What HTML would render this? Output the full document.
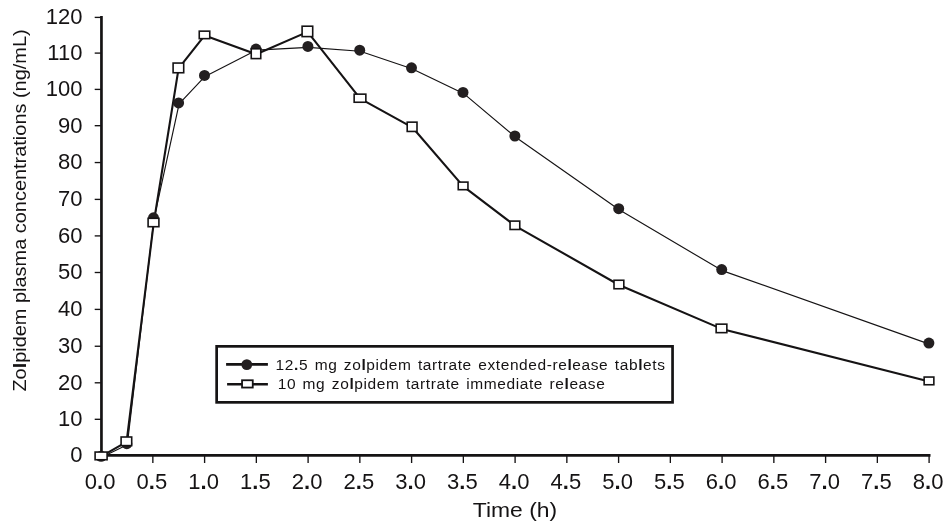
<!DOCTYPE html>
<html><head><meta charset="utf-8"><title>Zolpidem plasma concentrations</title>
<style>html,body{margin:0;padding:0;background:#fff;overflow:hidden}svg{display:block;will-change:transform}</style>
</head><body>
<svg width="950" height="527" viewBox="0 0 950 527">
<rect width="950" height="527" fill="#fff"/>
<line x1="94.7" y1="419.30" x2="101" y2="419.30" stroke="#151314" stroke-width="1.35"/>
<line x1="94.7" y1="382.80" x2="101" y2="382.80" stroke="#151314" stroke-width="1.35"/>
<line x1="94.7" y1="346.25" x2="101" y2="346.25" stroke="#151314" stroke-width="1.35"/>
<line x1="94.7" y1="309.40" x2="101" y2="309.40" stroke="#151314" stroke-width="1.35"/>
<line x1="94.7" y1="272.50" x2="101" y2="272.50" stroke="#151314" stroke-width="1.35"/>
<line x1="94.7" y1="235.90" x2="101" y2="235.90" stroke="#151314" stroke-width="1.35"/>
<line x1="94.7" y1="199.40" x2="101" y2="199.40" stroke="#151314" stroke-width="1.35"/>
<line x1="94.7" y1="162.55" x2="101" y2="162.55" stroke="#151314" stroke-width="1.35"/>
<line x1="94.7" y1="125.70" x2="101" y2="125.70" stroke="#151314" stroke-width="1.35"/>
<line x1="94.7" y1="89.40" x2="101" y2="89.40" stroke="#151314" stroke-width="1.35"/>
<line x1="94.7" y1="53.10" x2="101" y2="53.10" stroke="#151314" stroke-width="1.35"/>
<line x1="94.7" y1="17.40" x2="101" y2="17.40" stroke="#151314" stroke-width="1.35"/>
<line x1="152.85" y1="455" x2="152.85" y2="463" stroke="#151314" stroke-width="1.35"/>
<line x1="204.60" y1="455" x2="204.60" y2="463" stroke="#151314" stroke-width="1.35"/>
<line x1="256.35" y1="455" x2="256.35" y2="463" stroke="#151314" stroke-width="1.35"/>
<line x1="308.10" y1="455" x2="308.10" y2="463" stroke="#151314" stroke-width="1.35"/>
<line x1="359.85" y1="455" x2="359.85" y2="463" stroke="#151314" stroke-width="1.35"/>
<line x1="411.60" y1="455" x2="411.60" y2="463" stroke="#151314" stroke-width="1.35"/>
<line x1="463.35" y1="455" x2="463.35" y2="463" stroke="#151314" stroke-width="1.35"/>
<line x1="515.10" y1="455" x2="515.10" y2="463" stroke="#151314" stroke-width="1.35"/>
<line x1="566.85" y1="455" x2="566.85" y2="463" stroke="#151314" stroke-width="1.35"/>
<line x1="618.60" y1="455" x2="618.60" y2="463" stroke="#151314" stroke-width="1.35"/>
<line x1="670.35" y1="455" x2="670.35" y2="463" stroke="#151314" stroke-width="1.35"/>
<line x1="722.10" y1="455" x2="722.10" y2="463" stroke="#151314" stroke-width="1.35"/>
<line x1="773.85" y1="455" x2="773.85" y2="463" stroke="#151314" stroke-width="1.35"/>
<line x1="825.60" y1="455" x2="825.60" y2="463" stroke="#151314" stroke-width="1.35"/>
<line x1="877.35" y1="455" x2="877.35" y2="463" stroke="#151314" stroke-width="1.35"/>
<line x1="929.10" y1="455" x2="929.10" y2="463" stroke="#151314" stroke-width="1.35"/>
<line x1="101.45" y1="16" x2="101.45" y2="456.6" stroke="#151314" stroke-width="2.7"/>
<line x1="100.1" y1="455.45" x2="930.5" y2="455.45" stroke="#151314" stroke-width="2.8"/>
<g font-family="Liberation Sans, Arial, sans-serif" font-size="22" fill="#151314" text-anchor="end"><text x="82.4" y="462.35">0</text><text x="82.4" y="426.20">10</text><text x="82.4" y="389.70">20</text><text x="82.4" y="353.15">30</text><text x="82.4" y="316.30">40</text><text x="82.4" y="279.40">50</text><text x="82.4" y="242.80">60</text><text x="82.4" y="206.30">70</text><text x="82.4" y="169.45">80</text><text x="82.4" y="132.60">90</text><text x="82.4" y="96.30">100</text><text x="82.4" y="60.00">110</text><text x="82.4" y="24.30">120</text></g>
<g font-family="Liberation Sans, Arial, sans-serif" font-size="22" fill="#151314" text-anchor="middle"><text x="100.10" y="488.7">0<tspan font-weight="bold" dy="0.7">.</tspan><tspan dy="-0.7">0</tspan></text><text x="151.85" y="488.7">0<tspan font-weight="bold" dy="0.7">.</tspan><tspan dy="-0.7">5</tspan></text><text x="203.60" y="488.7">1<tspan font-weight="bold" dy="0.7">.</tspan><tspan dy="-0.7">0</tspan></text><text x="255.35" y="488.7">1<tspan font-weight="bold" dy="0.7">.</tspan><tspan dy="-0.7">5</tspan></text><text x="307.10" y="488.7">2<tspan font-weight="bold" dy="0.7">.</tspan><tspan dy="-0.7">0</tspan></text><text x="358.85" y="488.7">2<tspan font-weight="bold" dy="0.7">.</tspan><tspan dy="-0.7">5</tspan></text><text x="410.60" y="488.7">3<tspan font-weight="bold" dy="0.7">.</tspan><tspan dy="-0.7">0</tspan></text><text x="462.35" y="488.7">3<tspan font-weight="bold" dy="0.7">.</tspan><tspan dy="-0.7">5</tspan></text><text x="514.10" y="488.7">4<tspan font-weight="bold" dy="0.7">.</tspan><tspan dy="-0.7">0</tspan></text><text x="565.85" y="488.7">4<tspan font-weight="bold" dy="0.7">.</tspan><tspan dy="-0.7">5</tspan></text><text x="617.60" y="488.7">5<tspan font-weight="bold" dy="0.7">.</tspan><tspan dy="-0.7">0</tspan></text><text x="669.35" y="488.7">5<tspan font-weight="bold" dy="0.7">.</tspan><tspan dy="-0.7">5</tspan></text><text x="721.10" y="488.7">6<tspan font-weight="bold" dy="0.7">.</tspan><tspan dy="-0.7">0</tspan></text><text x="772.85" y="488.7">6<tspan font-weight="bold" dy="0.7">.</tspan><tspan dy="-0.7">5</tspan></text><text x="824.60" y="488.7">7<tspan font-weight="bold" dy="0.7">.</tspan><tspan dy="-0.7">0</tspan></text><text x="876.35" y="488.7">7<tspan font-weight="bold" dy="0.7">.</tspan><tspan dy="-0.7">5</tspan></text><text x="928.10" y="488.7">8<tspan font-weight="bold" dy="0.7">.</tspan><tspan dy="-0.7">0</tspan></text></g>
<text transform="translate(515,516.8) scale(1.09,1)" text-anchor="middle" font-family="Liberation Sans, Arial, sans-serif" font-size="21" fill="#151314">Time (h)</text>
<text transform="translate(26.2,210.5) rotate(-90) scale(1.108,1)" text-anchor="middle" font-family="Liberation Sans, Arial, sans-serif" font-size="18" fill="#151314">Zo<tspan font-weight="bold">l</tspan>pidem plasma concentrations (ng/mL)</text>
<polyline fill="none" stroke="#151314" stroke-width="1.15" stroke-linejoin="round" points="101.6,457.3 127.3,444.7 154.0,218.8 179.1,103.9 205.0,76.4 256.5,50.1 308.4,47.4 360.2,51.2 412.0,68.8 463.5,93.4 515.4,137.0 619.2,209.7 722.2,270.6 929.4,344.1"/>
<polyline fill="none" stroke="#151314" stroke-width="2.1" stroke-linejoin="round" points="101.3,456.4 126.6,441.8 153.7,223.0 178.6,68.4 204.7,35.4 256.2,54.2 307.6,31.9 360.2,98.7 412.3,127.3 463.3,186.4 515.1,225.8 619.1,285.0 721.7,328.9 929.2,381.4"/>
<circle cx="101.1" cy="456.3" r="5.5" fill="#231f20"/>
<circle cx="126.8" cy="443.7" r="5.5" fill="#231f20"/>
<circle cx="153.5" cy="217.8" r="5.5" fill="#231f20"/>
<circle cx="178.6" cy="102.9" r="5.5" fill="#231f20"/>
<circle cx="204.5" cy="75.4" r="5.5" fill="#231f20"/>
<circle cx="256.0" cy="49.1" r="5.5" fill="#231f20"/>
<circle cx="307.9" cy="46.4" r="5.5" fill="#231f20"/>
<circle cx="359.7" cy="50.2" r="5.5" fill="#231f20"/>
<circle cx="411.5" cy="67.8" r="5.5" fill="#231f20"/>
<circle cx="463.0" cy="92.4" r="5.5" fill="#231f20"/>
<circle cx="514.9" cy="136.0" r="5.5" fill="#231f20"/>
<circle cx="618.7" cy="208.7" r="5.5" fill="#231f20"/>
<circle cx="721.7" cy="269.6" r="5.5" fill="#231f20"/>
<circle cx="928.9" cy="343.1" r="5.5" fill="#231f20"/>
<rect x="95.10" y="452.05" width="12.00" height="7.70" fill="#fff" stroke="#151314" stroke-width="1.6"/>
<rect x="121.10" y="437.00" width="10.60" height="8.60" fill="#fff" stroke="#151314" stroke-width="1.6"/>
<rect x="148.10" y="218.30" width="10.80" height="8.40" fill="#fff" stroke="#151314" stroke-width="1.6"/>
<rect x="173.10" y="63.05" width="10.60" height="9.70" fill="#fff" stroke="#151314" stroke-width="1.6"/>
<rect x="199.25" y="31.15" width="10.50" height="7.50" fill="#fff" stroke="#151314" stroke-width="1.6"/>
<rect x="251.25" y="48.80" width="9.50" height="9.80" fill="#fff" stroke="#151314" stroke-width="1.6"/>
<rect x="302.10" y="26.20" width="10.60" height="10.40" fill="#fff" stroke="#151314" stroke-width="1.6"/>
<rect x="354.15" y="94.15" width="11.70" height="8.10" fill="#fff" stroke="#151314" stroke-width="1.6"/>
<rect x="407.20" y="122.15" width="9.80" height="9.30" fill="#fff" stroke="#151314" stroke-width="1.6"/>
<rect x="458.25" y="182.10" width="9.70" height="7.60" fill="#fff" stroke="#151314" stroke-width="1.6"/>
<rect x="510.05" y="221.10" width="9.70" height="8.40" fill="#fff" stroke="#151314" stroke-width="1.6"/>
<rect x="614.00" y="280.25" width="9.80" height="8.50" fill="#fff" stroke="#151314" stroke-width="1.6"/>
<rect x="716.15" y="324.15" width="10.70" height="8.50" fill="#fff" stroke="#151314" stroke-width="1.6"/>
<rect x="924.15" y="377.05" width="9.70" height="7.70" fill="#fff" stroke="#151314" stroke-width="1.6"/>
<rect x="216.65" y="346.35" width="455.9" height="56" fill="#fff" stroke="#151314" stroke-width="2.7"/>
<line x1="226.1" y1="364.4" x2="267.9" y2="364.4" stroke="#151314" stroke-width="2.6"/>
<circle cx="246.8" cy="364.6" r="5.4" fill="#231f20"/>
<line x1="227.1" y1="384.3" x2="267.9" y2="384.3" stroke="#151314" stroke-width="2.6"/>
<rect x="242.05" y="380.25" width="10.70" height="7.30" fill="#fff" stroke="#151314" stroke-width="1.8"/>
<text transform="translate(275.6,370) scale(1.07,1)" letter-spacing="0.55" word-spacing="1.5" font-family="Liberation Sans, Arial, sans-serif" font-size="14.5" fill="#151314">12<tspan font-weight="bold">.</tspan>5 mg zo<tspan font-weight="bold">l</tspan>pidem tartrate extended-re<tspan font-weight="bold">l</tspan>ease tab<tspan font-weight="bold">l</tspan>ets</text>
<text transform="translate(277.7,389.4) scale(1.07,1)" letter-spacing="0.55" word-spacing="1.5" font-family="Liberation Sans, Arial, sans-serif" font-size="14.5" fill="#151314">10 mg zo<tspan font-weight="bold">l</tspan>pidem tartrate immediate re<tspan font-weight="bold">l</tspan>ease</text>
</svg>
</body></html>
